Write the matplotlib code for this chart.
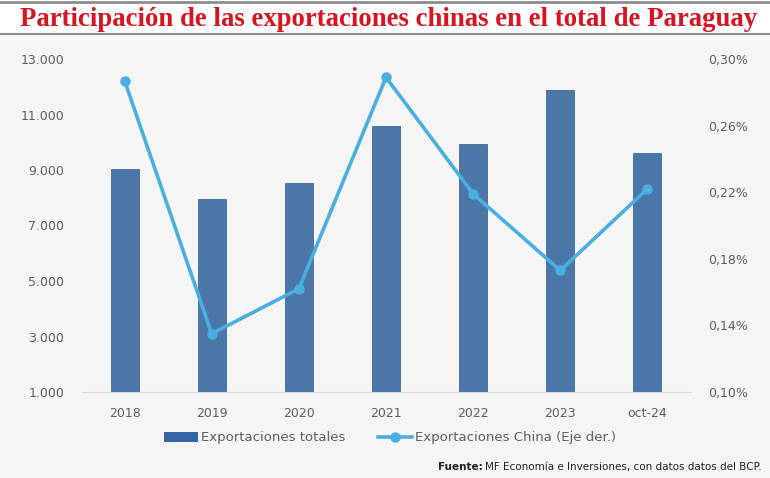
import matplotlib
matplotlib.use("Agg")
import matplotlib.pyplot as plt
from matplotlib.lines import Line2D
from matplotlib.patches import Patch, Rectangle
from matplotlib.ticker import FuncFormatter
import numpy as np

categories = ["2018", "2019", "2020", "2021", "2022", "2023", "oct-24"]
exportaciones_totales = [9050, 7960, 8530, 10590, 9940, 11880, 9610]
exportaciones_china_pct = [0.287, 0.135, 0.162, 0.289, 0.219, 0.173, 0.222]
left_ticks = [1000, 3000, 5000, 7000, 9000, 11000, 13000]
right_ticks = [0.10, 0.14, 0.18, 0.22, 0.26, 0.30]

title = "Participación de las exportaciones chinas en el total de Paraguay"
bar_color = "#4a76a8"
line_color = "#4aaee0"
tick_color = "#5f5f5f"
bg = "#f5f5f5"

fig = plt.figure(figsize=(7.7, 4.78), dpi=100, facecolor=bg)

# title band
fig.patches.append(Rectangle((0, 1 - 34/478), 1, 34/478, transform=fig.transFigure,
                             facecolor="white", edgecolor="none", zorder=0))
fig.add_artist(Line2D([0, 1], [1 - 1.5/478, 1 - 1.5/478], color="#8c8c8c", lw=2))
fig.add_artist(Line2D([0, 1], [1 - 34/478, 1 - 34/478], color="#8c8c8c", lw=1.5))

t = fig.text(20/770, 1 - 19/478, title, color="#d7141f", fontsize=19, fontweight="bold",
             family=["Liberation Serif", "DejaVu Serif"], ha="left", va="center")
fig.canvas.draw()
r = fig.canvas.get_renderer()
w = t.get_window_extent(r).width
t.set_fontsize(19 * 735 / w)

ax = fig.add_axes([81/770, 86/478, 610/770, (392-59)/478])
ax.set_facecolor(bg)
x = np.arange(len(categories))
ax.bar(x, exportaciones_totales, width=0.32, color=bar_color, edgecolor="#3f6a9b",
       linewidth=0.6, zorder=2, bottom=0)
ax.set_ylim(1000, 13000)
ax.set_xlim(-0.5, len(categories) - 0.5)
ax.set_yticks(left_ticks)
ax.yaxis.set_major_formatter(FuncFormatter(lambda v, p: f"{int(v):,}".replace(",", ".")))
ax.set_xticks(x)
ax.set_xticklabels(categories)
for s in ["top", "right", "left"]:
    ax.spines[s].set_visible(False)
ax.spines["bottom"].set_color("#d9d9d9")
ax.tick_params(axis="both", length=0, colors=tick_color, labelsize=9)
ax.tick_params(axis="y", pad=12)
ax.tick_params(axis="x", pad=11)

ax2 = ax.twinx()
ax2.plot(x, exportaciones_china_pct, color=line_color, lw=2.6, marker="o", ms=6.5, zorder=3)
ax2.set_ylim(0.10, 0.30)
ax2.set_yticks(right_ticks)
ax2.yaxis.set_major_formatter(FuncFormatter(lambda v, p: f"{v:.2f}%".replace(".", ",")))
for s in ax2.spines.values():
    s.set_visible(False)
ax2.tick_params(axis="y", length=0, colors=tick_color, labelsize=9, pad=12)

handles = [Patch(facecolor="#3565a5", edgecolor="none"),
           Line2D([0], [0], color=line_color, lw=2.6, marker="o", ms=6.5)]
fig.legend(handles, ["Exportaciones totales", "Exportaciones China (Eje der.)"],
           loc="center", bbox_to_anchor=(390/770, 1 - 438/478), ncol=2, frameon=False,
           fontsize=9.5, labelcolor=tick_color, handlelength=2.6, handletextpad=0.2,
           columnspacing=2.5)

src = fig.text(762/770, 1 - 467/478, "MF Economía e Inversiones, con datos datos del BCP.",
               ha="right", va="center", fontsize=7.5, family=["Liberation Sans Narrow", "DejaVu Sans"],
               color="#222222")
fig.canvas.draw()
bb = src.get_window_extent(fig.canvas.get_renderer())
fig.text(bb.x0 / 770 - 3/770, 1 - 467/478, "Fuente:", ha="right", va="center", fontsize=7.5,
         fontweight="bold", family=["Liberation Sans Narrow", "DejaVu Sans"], color="#222222")

fig.savefig("out.png", dpi=100, facecolor=bg)
